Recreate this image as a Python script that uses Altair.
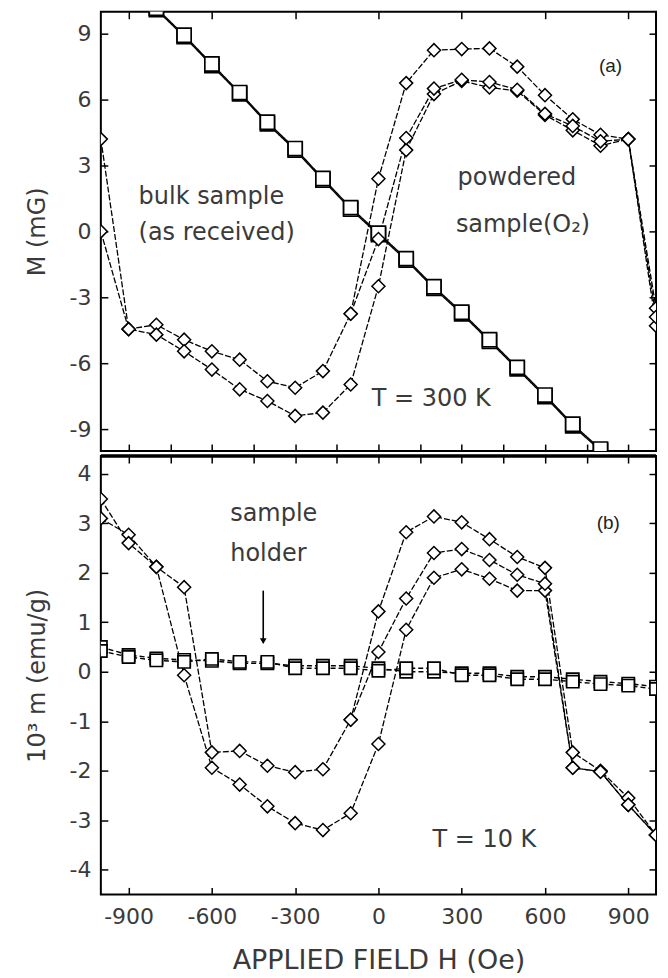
import altair as alt
import pandas as pd

# ---------------- data ----------------
H_ALL = list(range(-1000, 1001, 100))
H_BULK = list(range(-900, 901, 100))
H_PART = list(range(-100, 1001, 100))

X_TICKS = [-900, -600, -300, 0, 300, 600, 900]
X_TICKS_SEP = list(range(-900, 901, 150))
Y_TICKS_TOP = [-9, -6, -3, 0, 3, 6, 9]
Y_TICKS_BOT = [-4, -3, -2, -1, 0, 1, 2, 3, 4]

# (a) T = 300 K, M (mG)
top_bulk_up = [11.4, 10.1, 8.87, 7.55, 6.26, 4.9, 3.7, 2.34, 1.01, -0.15,
               -1.31, -2.59, -3.75, -5.0, -6.26, -7.52, -8.85, -9.98, -11.3]
top_bulk_dn = [11.46, 10.16, 8.93, 7.62, 6.32, 4.97, 3.77, 2.41, 1.08, -0.08,
               -1.24, -2.52, -3.68, -4.93, -6.19, -7.45, -8.78, -9.91, -11.23]
top_pow_a = [4.2, -4.45, -4.25, -4.93, -5.46, -5.84, -6.82, -7.12, -6.36, -3.75,
             2.4, 6.75, 8.25, 8.3, 8.33, 7.5, 6.2, 5.1, 4.4, 4.2, -4.3]
top_pow_b = [0.0, -4.45, -4.7, -5.46, -6.29, -7.19, -7.72, -8.4, -8.25, -6.97,
             -2.5, 3.7, 6.25, 6.85, 6.55, 6.4, 5.3, 4.6, 3.9, 4.2, -3.5]
top_pow_c = [-3.75, -0.35, 4.25, 6.5, 6.9, 6.8, 6.45, 5.35, 4.8, 4.1, 4.2, -3.9]

# (b) T = 10 K, 10^3 m (emu/g)
bot_hold_1 = [0.5, 0.34, 0.27, 0.24, 0.22, 0.17, 0.17, 0.12, 0.12, 0.12, 0.07,
              0.0, 0.0, -0.03, -0.03, -0.1, -0.1, -0.15, -0.2, -0.24, -0.3]
bot_hold_2 = [0.42, 0.3, 0.23, 0.2, 0.26, 0.2, 0.2, 0.07, 0.07, 0.07, 0.02,
              0.07, 0.07, -0.07, -0.07, -0.15, -0.15, -0.2, -0.25, -0.28, -0.35]
bot_pow_a = [3.1, 2.77, 2.12, 1.71, -1.63, -1.6, -1.9, -2.03, -1.97, -0.97,
             1.22, 2.82, 3.14, 3.02, 2.68, 2.32, 2.1, -1.63, -2.0, -2.55, -3.3]
bot_pow_c = [3.49, 2.6, 2.12, -0.07, -1.94, -2.28, -2.72, -3.06, -3.2, -2.86,
             -1.46, 0.85, 1.9, 2.07, 1.88, 1.64, 1.64, -1.94, -2.02, -2.69, -3.3]
bot_pow_b = [-0.97, 0.4, 1.48, 2.4, 2.48, 2.26, 1.96, 1.78, -1.94, -2.02, -2.69, -3.3]

top_text_h = [-864, -864, 285, 279, -24]
top_text_v = [1.56, -0.08, 2.41, 0.31, -7.64]
top_text_t = ["bulk sample", "(as received)", "powdered", "sample(O₂)", "T = 300 K"]
bot_text_h = [-534, -534, 195]
bot_text_v = [3.18, 2.39, -3.4]
bot_text_t = ["sample", "holder", "T = 10 K"]

TOP_TAG = ["(a)"]; TOP_TAG_H = [836]; TOP_TAG_V = [7.55]
BOT_TAG = ["(b)"]; BOT_TAG_H = [828]; BOT_TAG_V = [3.0]

ARROW_H = [-415]; ARROW_FROM = [1.64]; ARROW_TO = [0.62]; ARROW_HEAD = [0.62]

W = 556
H_TOP = 440
H_BOT = 439
FONT = "DejaVu Sans"
GREY = "#3a3a3a"
PLAIN = "'' + datum.value"


def frame(xs, ys, name):
    return pd.DataFrame({"H": xs, "v": ys, "s": name})


def panel(sq, dm, ydom, yticks, ytitle, h, texts, tag, bottom, sq_size, sq_dash, extra):
    xsc = alt.Scale(domain=[-1000, 1000], nice=False, zero=False)
    ysc = alt.Scale(domain=ydom, nice=False, zero=False)
    if bottom:
        xmain = alt.Axis(values=X_TICKS, ticks=False, tickSize=0, domain=False,
                         grid=False, labelPadding=12, titlePadding=20, labelExpr=PLAIN,
                         titleFontSize=27)
        xtitle = "APPLIED FIELD H (Oe)"
        top_edge_vals, bot_edge_vals = X_TICKS_SEP, X_TICKS
    else:
        xmain = None
        xtitle = None
        top_edge_vals, bot_edge_vals = X_TICKS, X_TICKS_SEP
    ymain = alt.Axis(values=yticks, ticks=False, tickSize=0, domain=False,
                     grid=False, labelPadding=10, titlePadding=19, labelExpr=PLAIN)

    X0 = alt.X("H:Q", scale=xsc, axis=None, title=None)
    Y0 = alt.Y("v:Q", scale=ysc, axis=None, title=None)

    lines_sq = alt.Chart(sq).mark_line(color="black", strokeWidth=1.4, strokeDash=sq_dash,
                                       clip=True).encode(
        x=alt.X("H:Q", scale=xsc, axis=xmain, title=xtitle),
        y=alt.Y("v:Q", scale=ysc, axis=ymain, title=ytitle),
        detail="s:N")
    lines_dm = alt.Chart(dm).mark_line(color="black", strokeWidth=1.3, strokeDash=[6, 2],
                                       clip=True).encode(x=X0, y=Y0, detail="s:N")
    pts_sq = alt.Chart(sq).mark_point(shape="square", filled=True, fill="white", stroke="black",
                                      strokeWidth=1.7, size=sq_size, opacity=1, clip=True).encode(
        x=X0, y=Y0)
    pts_dm = alt.Chart(dm).mark_point(shape="diamond", filled=True, fill="white", stroke="black",
                                      strokeWidth=1.5, size=170, opacity=1, clip=True).encode(
        x=X0, y=Y0)
    txt = alt.Chart(texts).mark_text(align="left", baseline="middle", font=FONT, fontSize=24,
                                     color=GREY).encode(x=X0, y=Y0, text="t:N")
    tg = alt.Chart(tag).mark_text(align="center", baseline="middle", font="Liberation Sans",
                                  fontSize=19, color="#222").encode(x=X0, y=Y0, text="t:N")
    inv1 = alt.Chart(dm).mark_point(opacity=0).encode(
        x=alt.X("H:Q", scale=xsc, title=None,
                axis=alt.Axis(orient="top", offset=-h, values=bot_edge_vals, labels=False,
                              domain=False, grid=False, tickSize=7, tickWidth=1.5,
                              tickColor="black")),
        y=alt.Y("v:Q", scale=ysc, title=None,
                axis=alt.Axis(orient="right", offset=-W, values=yticks, labels=False,
                              domain=False, grid=False, tickSize=7, tickWidth=1.5,
                              tickColor="black")))
    inv2 = alt.Chart(dm).mark_point(opacity=0).encode(
        x=alt.X("H:Q", scale=xsc, title=None,
                axis=alt.Axis(orient="bottom", offset=-h, values=top_edge_vals, labels=False,
                              domain=False, grid=False, tickSize=7, tickWidth=1.5,
                              tickColor="black")),
        y=alt.Y("v:Q", scale=ysc, title=None,
                axis=alt.Axis(orient="left", offset=-W, values=yticks, labels=False,
                              domain=False, grid=False, tickSize=7, tickWidth=1.5,
                              tickColor="black")))
    layers = [lines_sq, lines_dm, pts_sq, pts_dm, txt, tg, inv1, inv2] + extra(xsc, ysc)
    return alt.layer(*layers).resolve_axis(x="independent", y="independent").properties(
        width=W, height=h)


top_sq = pd.concat([frame(H_BULK, top_bulk_up, "up"), frame(H_BULK, top_bulk_dn, "down")])
top_dm = pd.concat([frame(H_ALL, top_pow_a, "a"), frame(H_ALL, top_pow_b, "b"),
                    frame(H_PART, top_pow_c, "c")])
bot_sq = pd.concat([frame(H_ALL, bot_hold_1, "h1"), frame(H_ALL, bot_hold_2, "h2")])
bot_dm = pd.concat([frame(H_ALL, bot_pow_a, "a"), frame(H_ALL, bot_pow_c, "c"),
                    frame(H_PART, bot_pow_b, "b")])

top_txt = pd.DataFrame({"H": top_text_h, "v": top_text_v, "t": top_text_t})
bot_txt = pd.DataFrame({"H": bot_text_h, "v": bot_text_v, "t": bot_text_t})
top_tag = pd.DataFrame({"H": TOP_TAG_H, "v": TOP_TAG_V, "t": TOP_TAG})
bot_tag = pd.DataFrame({"H": BOT_TAG_H, "v": BOT_TAG_V, "t": BOT_TAG})


def no_extra(xsc, ysc):
    return []


def bottom_extra(xsc, ysc):
    arrow = pd.DataFrame({"H": ARROW_H, "v": ARROW_FROM, "v2": ARROW_TO, "hd": ARROW_HEAD})
    shaft = alt.Chart(arrow).mark_rule(color="black", strokeWidth=1.6).encode(
        x=alt.X("H:Q", scale=xsc, axis=None),
        y=alt.Y("v:Q", scale=ysc, axis=None), y2="v2:Q")
    head = alt.Chart(arrow).mark_point(shape="triangle-down", filled=True, color="black",
                                       size=45, opacity=1).encode(
        x=alt.X("H:Q", scale=xsc, axis=None),
        y=alt.Y("hd:Q", scale=ysc, axis=None))
    sep = alt.Chart(pd.DataFrame({"z": [0]})).mark_rule(color="black", strokeWidth=3.5).encode(
        y=alt.value(0))
    return [shaft, head, sep]


top = panel(top_sq, top_dm, [-10, 10], Y_TICKS_TOP, "M (mG)", H_TOP, top_txt, top_tag,
            False, 200, [1, 0], no_extra)
bottom = panel(bot_sq, bot_dm, [-4.5, 4.36], Y_TICKS_BOT, "10³ m (emu/g)", H_BOT, bot_txt,
               bot_tag, True, 150, [5, 3], bottom_extra)

chart = alt.vconcat(top, bottom, spacing=0).configure_view(
    stroke="black", strokeWidth=2
).configure_axis(
    labelFont=FONT, labelFontSize=22, labelColor=GREY,
    titleFont=FONT, titleFontSize=24, titleColor=GREY, titleFontWeight="normal"
).properties(padding={"left": 25, "top": 9, "right": 8, "bottom": 2})

chart.save("out.html", embed_options={"renderer": "svg", "actions": False})
